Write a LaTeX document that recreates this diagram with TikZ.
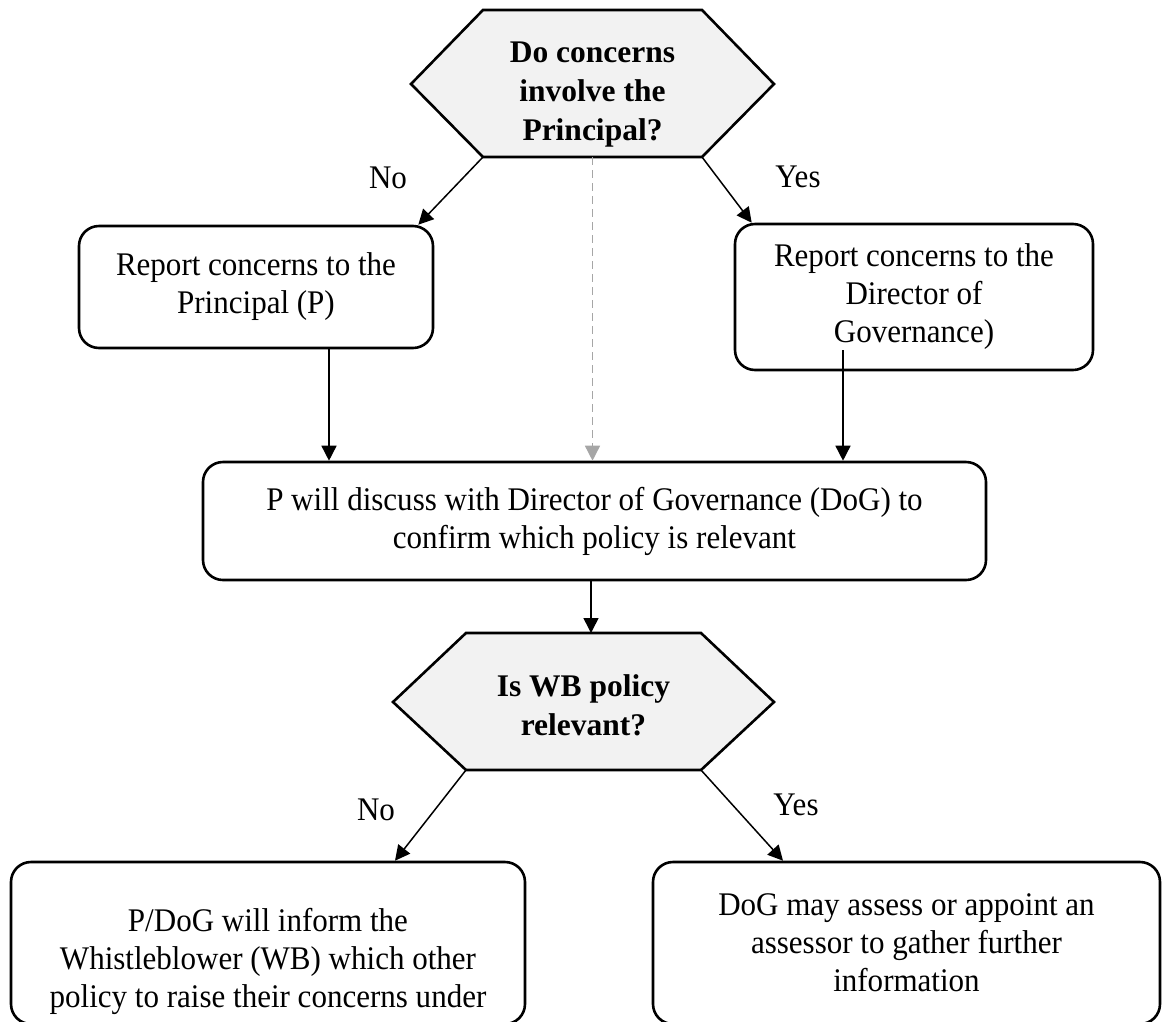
\documentclass[tikz,border=0pt]{standalone}
\usepackage{fontspec}
\setmainfont{Liberation Serif}
\newfontfamily\bodyfam[FakeStretch=0.94]{Liberation Serif}
\usetikzlibrary{arrows.meta}
\definecolor{hexgray}{HTML}{F2F2F2}
\definecolor{dashgray}{HTML}{A6A6A6}
\newcommand\mybody{\bodyfam\fontsize{33}{38}\selectfont}
\newcommand\myq{\fontsize{31.5}{39}\selectfont\bfseries}
\begin{document}
\begin{tikzpicture}[x=1pt,y=-1pt,
  box/.style={draw, line width=2.6pt, rounded corners=20pt, align=center, font=\mybody, inner sep=0pt},
  txt/.style={align=center, font=\mybody, inner sep=0pt},
  arr/.style={-{Triangle[length=15pt,width=15pt]}, line width=1.5pt},
  lbl/.style={font=\mybody, inner sep=0pt},
  hex/.style={draw, line width=2.6pt, fill=hexgray, line join=miter},
  qtext/.style={font=\myq, align=center, inner sep=0pt}]
\useasboundingbox (0,0) rectangle (1165,1021);

% top decision
\coordinate (h1l) at (411,84);
\coordinate (h1tl) at (483,10);
\coordinate (h1tr) at (702,10);
\coordinate (h1r) at (774,84);
\coordinate (h1br) at (702,157);
\coordinate (h1bl) at (483,157);
\coordinate (h1b) at (592.5,157);
\draw[hex] (h1l) -- (h1tl) -- (h1tr) -- (h1r) -- (h1br) -- (h1bl) -- cycle;
\node[qtext] (q1) at (592.5,95) {Do concerns\\involve the\\Principal?};

% boxes
\node[box, minimum width=354, minimum height=122] (rp) at (256,287) {Report concerns to the\\Principal (P)};
\node[box, minimum width=358, minimum height=146] (rd) at (914,297) {Report concerns to the\\Director of\\Governance)};
\node[box, minimum width=783, minimum height=118] (disc) at (594.5,521) {P will discuss with Director of Governance (DoG) to\\confirm which policy is relevant};

% second decision
\coordinate (h2l) at (393,702);
\coordinate (h2tl) at (466,633);
\coordinate (h2tr) at (701,633);
\coordinate (h2r) at (774,702);
\coordinate (h2br) at (701,770);
\coordinate (h2bl) at (466,770);
\coordinate (h2t) at (591,633);
\draw[hex] (h2l) -- (h2tl) -- (h2tr) -- (h2r) -- (h2br) -- (h2bl) -- cycle;
\node[qtext] (q2) at (583.5,705) {Is WB policy\\relevant?};

% bottom boxes
\node[box, minimum width=514, minimum height=162] (inf) at (268,943) {};
\node[txt] (inft) at (268,961) {P/DoG will inform the\\Whistleblower (WB) which other\\policy to raise their concerns under};
\node[box, minimum width=507, minimum height=162] (dog) at (906.5,943) {DoG may assess or appoint an\\assessor to gather further\\information};

% labels
\node[lbl] (no1) at (388,178) {No};
\node[lbl] (yes1) at (798,177) {Yes};
\node[lbl] (no2) at (376,810) {No};
\node[lbl] (yes2) at (796,805) {Yes};

% helper coordinates
\coordinate (xl) at (329,0);
\coordinate (rs) at (843,350);
\coordinate (tipl) at (395,0);
\coordinate (tipr) at (783,0);

% connectors
\draw[arr] (h1bl) -- ([xshift=-16pt]rp.north east);
\draw[arr] (h1br) -- ([xshift=18pt]rd.north west);
\draw[arr] (rp.south -| xl) -- (disc.north -| xl);
\draw[arr] (rs) -- (disc.north -| rs);
\draw[arr, dashgray, dash pattern=on 8pt off 5pt] (h1b) -- (disc.north -| h1b);
\draw[arr] (disc.south -| h2t) -- (h2t);
\draw[arr] (h2bl) -- (inf.north -| tipl);
\draw[arr] (h2br) -- (dog.north -| tipr);
\end{tikzpicture}
\end{document}
